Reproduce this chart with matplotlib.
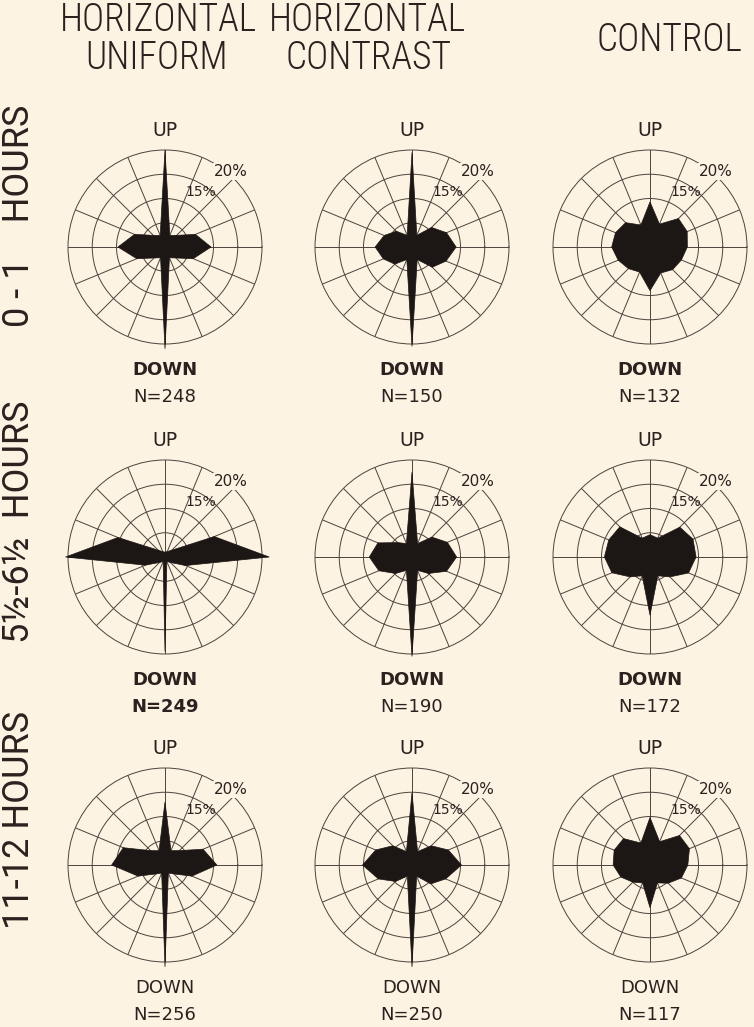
import numpy as np
import matplotlib
matplotlib.use("Agg")
import matplotlib.pyplot as plt

# directions of the rose, degrees counter-clockwise from the right (90 = UP)
angles = [0, 22.5, 45, 67.5, 90, 112.5, 135, 157.5,
          180, 202.5, 225, 247.5, 270, 292.5, 315, 337.5]

# percent of animals per direction
uni_0_1 = [9.5, 6.8, 3.4, 2.6, 20.0, 2.6, 3.4, 6.8, 9.7, 6.3, 3.2, 2.4, 21.0, 2.4, 3.2, 6.3]
con_0_1 = [9.1, 7.7, 5.7, 2.6, 19.5, 2.6, 4.6, 6.2, 7.6, 6.4, 5.0, 2.8, 20.5, 2.8, 5.9, 7.6]
ctl_0_1 = [7.7, 8.3, 8.3, 5.1, 9.3, 4.9, 7.1, 7.7, 7.9, 7.1, 6.3, 5.6, 9.0, 5.8, 6.6, 7.0]
uni_6 = [21.5, 11.0, 2.0, 1.2, 1.0, 1.2, 2.0, 10.5, 20.5, 4.4, 1.6, 1.0, 19.5, 1.0, 1.6, 4.6]
con_6 = [9.2, 7.9, 5.8, 3.0, 17.5, 3.0, 4.2, 7.6, 8.8, 7.4, 4.8, 3.0, 20.5, 3.0, 4.8, 7.7]
ctl_6 = [9.5, 9.6, 8.7, 4.2, 4.6, 4.2, 8.8, 9.2, 9.4, 8.5, 5.8, 4.2, 12.0, 4.2, 5.8, 8.6]
uni_12 = [10.7, 8.5, 4.2, 3.2, 13.0, 3.2, 4.2, 9.3, 11.0, 6.0, 2.6, 1.8, 21.0, 1.8, 2.6, 6.0]
con_12 = [10.2, 8.1, 5.6, 3.0, 14.9, 3.0, 5.6, 8.1, 10.2, 7.5, 4.8, 2.5, 21.0, 2.5, 5.5, 7.5]
ctl_12 = [7.8, 8.8, 8.6, 5.2, 9.8, 4.9, 7.7, 8.0, 7.6, 6.5, 5.0, 4.0, 8.8, 4.0, 5.3, 7.0]

roses = [[uni_0_1, con_0_1, ctl_0_1],
         [uni_6, con_6, ctl_6],
         [uni_12, con_12, ctl_12]]
counts = [[248, 150, 132],
          [249, 190, 172],
          [256, 250, 117]]
row_labels = ["0 - 1    HOURS", "5½-6½  HOURS", "11-12 HOURS"]
rings = [5, 10, 15]

BG = "#fcf3e2"
INK = "#1c1615"
TXT = "#2b2220"
GRID = "#4e423d"
# narrow face for the headings, first one that is installed wins
NARROW = ["Roboto Condensed", "Liberation Sans Narrow", "Roboto", "DejaVu Sans"]

W, H = 754, 1027
fig = plt.figure(figsize=(W / 100, H / 100), dpi=100)
fig.patch.set_facecolor(BG)

col_x = [165, 412, 650]
row_y = [247, 557, 865]
R = 97

theta = np.deg2rad(angles + [angles[0]])

for i in range(3):
    for j in range(3):
        cx, cy = col_x[j], row_y[i]
        ax = fig.add_axes([(cx - R) / W, 1 - (cy + R) / H, 2 * R / W, 2 * R / H],
                          projection="polar")
        ax.set_facecolor("none")
        vals = roses[i][j]
        ax.fill(theta, vals + [vals[0]], color=INK, lw=0.5, zorder=3, clip_on=False)
        ax.set_rlim(0, 20)
        ax.set_rgrids(rings, labels=[])
        ax.set_thetagrids(angles, labels=[])
        ax.set_axisbelow(True)
        ax.grid(color=GRID, linewidth=0.7)
        ax.spines["polar"].set_color(GRID)
        ax.spines["polar"].set_linewidth(0.7)
        ax.tick_params(length=0, pad=0)

        ax.text(np.deg2rad(49), 20.6, "20%", ha="center", va="center", fontsize=11,
                color=TXT, zorder=4,
                bbox=dict(facecolor=BG, edgecolor="none", pad=0.5))
        ax.text(np.deg2rad(57), 13.4, "15%", ha="center", va="center", fontsize=10,
                color=TXT, zorder=4)

        w = "semibold" if i < 2 else "normal"
        ax.text(0.5, 1.1, "UP", transform=ax.transAxes, ha="center", va="center",
                fontsize=13.5, color=TXT)
        ax.text(0.5, -0.135, "DOWN", transform=ax.transAxes, ha="center", va="center",
                fontsize=13, color=TXT, fontweight=w)
        ax.text(0.5, -0.275, f"N={counts[i][j]}", transform=ax.transAxes, ha="center",
                va="center", fontsize=13, color=TXT,
                fontweight="bold" if (i, j) == (1, 0) else "normal")

# column headings
head = dict(ha="center", va="center", fontsize=27, family=NARROW, color=TXT,
            fontweight="light", fontstretch="condensed")
fig.text(158 / W, 1 - 20 / H, "HORIZONTAL", **head)
fig.text(157 / W, 1 - 58 / H, "UNIFORM", **head)
fig.text(367 / W, 1 - 20 / H, "HORIZONTAL", **head)
fig.text(368 / W, 1 - 58 / H, "CONTRAST", **head)
fig.text(669 / W, 1 - 40 / H, "CONTROL", **head)

# row headings
for y, lab in zip([216, 522, 820], row_labels):
    fig.text(19 / W, 1 - y / H, lab, rotation=90, ha="center", va="center",
             fontsize=26, family=["Roboto", "DejaVu Sans"], color=TXT,
             fontweight="normal")

fig.savefig("out.png", dpi=100, facecolor=BG)
